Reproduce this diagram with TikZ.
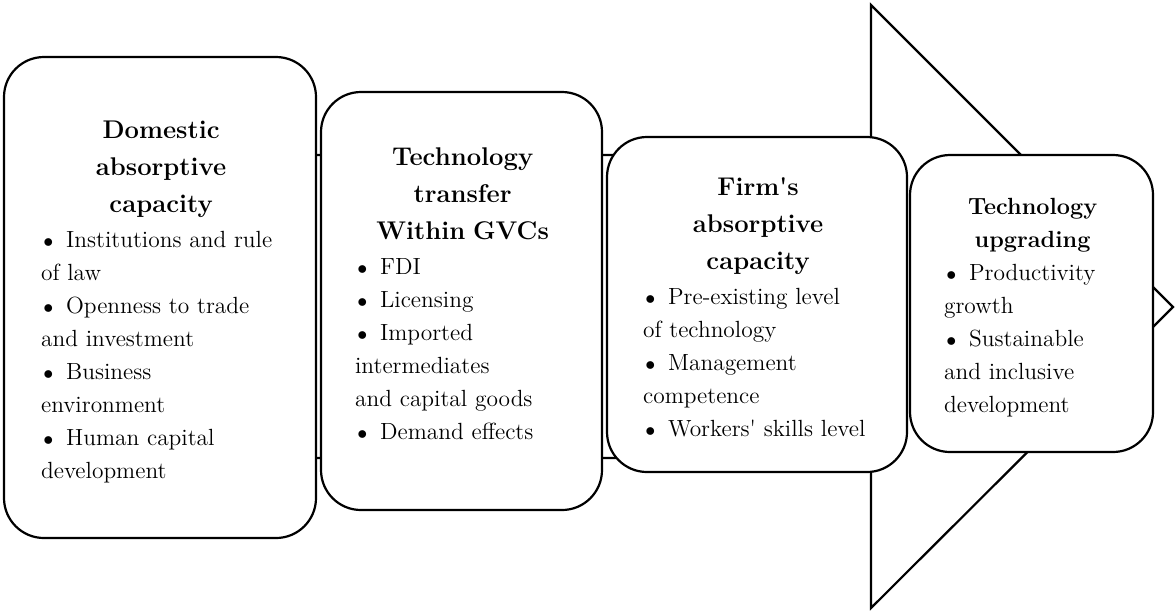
\documentclass[tikz,border=0pt]{standalone}
\newcommand{\lin}[1]{\mbox{#1}}
\newcommand{\bul}[1]{\mbox{\hspace*{1.1pt}{\fontsize{10}{10}\selectfont$\bullet$}\hspace{6.4pt}#1}}
\newcommand{\ttl}[1]{{\centering\bfseries\fontsize{12.8}{18.5}\selectfont #1\par}\vspace{1pt}}
\newcommand{\ttlb}[1]{{\centering\bfseries #1\par}}
\newcommand{\sq}{\textquotesingle}
\begin{document}
\begin{tikzpicture}[x=0.5pt,y=-0.5pt,line width=1.1pt,
  box/.style={draw,fill=white,rectangle,rounded corners=20pt,inner sep=0pt},
  txt/.style={anchor=north west,inner sep=0pt,align=left,font=\fontsize{11.7}{16.5}\selectfont}]
\useasboundingbox (0,0) rectangle (1176,612);
% big arrow
\draw[line join=miter] (20,155) -- (871,155) -- (871,5) -- (1173,307) -- (871,608) -- (871,458) -- (20,458) -- cycle;
% boxes
\node[box,minimum width=156pt,minimum height=240.5pt] (b1) at (160,297.5) {};
\node[box,minimum width=140.5pt,minimum height=209pt] (b2) at (461.5,301) {};
\node[box,minimum width=150pt,minimum height=167.5pt] (b3) at (757,304.5) {};
\node[box,minimum width=121.5pt,minimum height=148.5pt] (b4) at (1031.5,303.5) {};
% texts
\node[txt,text width=120pt] (t1) at (40,120) {\ttl{\lin{Domestic}\\\lin{absorptive}\\\lin{capacity}}%
\bul{Institutions and rule}\\\lin{of law}\\\bul{Openness to trade}\\\lin{and investment}\\\bul{Business}\\\lin{environment}\\\bul{Human capital}\\\lin{development}};
\node[txt,text width=107.5pt] (t2) at (354,147) {\ttl{\lin{Technology}\\\lin{transfer}\\\lin{Within GVCs}}%
\bul{FDI}\\\bul{Licensing}\\\bul{Imported}\\\lin{intermediates}\\\lin{and capital goods}\\\bul{Demand effects}};
\node[txt,text width=115pt] (t3) at (642,177) {\ttl{\lin{Firm\sq s}\\\lin{absorptive}\\\lin{capacity}}%
\bul{Pre-existing level}\\\lin{of technology}\\\bul{Management}\\\lin{competence}\\\bul{Workers\sq{} skills level}};
\node[txt,text width=88.5pt] (t4) at (943,197) {\ttlb{\lin{Technology}\\\lin{upgrading}}%
\bul{Productivity}\\\lin{growth}\\\bul{Sustainable}\\\lin{and inclusive}\\\lin{development}};
\end{tikzpicture}
\end{document}
